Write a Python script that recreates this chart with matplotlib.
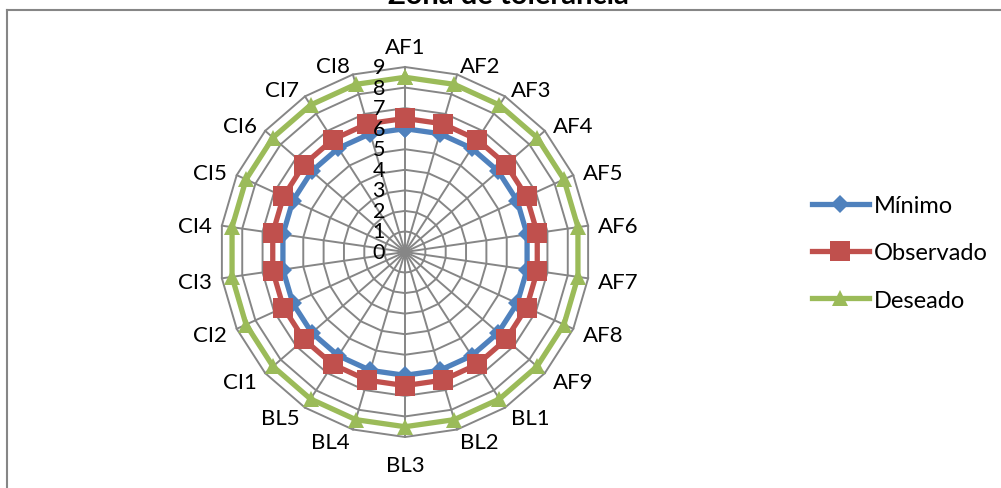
import numpy as np
import matplotlib
matplotlib.use('Agg')
import matplotlib.pyplot as plt
from matplotlib.lines import Line2D
from matplotlib.transforms import offset_copy

plt.rcParams['font.family'] = ['Lato', 'DejaVu Sans']

categories = ['AF1', 'AF2', 'AF3', 'AF4', 'AF5', 'AF6', 'AF7', 'AF8', 'AF9',
              'BL1', 'BL2', 'BL3', 'BL4', 'BL5',
              'CI1', 'CI2', 'CI3', 'CI4', 'CI5', 'CI6', 'CI7', 'CI8']
minimo = [6, 6, 6, 6, 6, 6, 6, 6, 6, 6, 6, 6, 6, 6, 6, 6, 6, 6, 6, 6, 6, 6]
observado = [6.5, 6.5, 6.5, 6.5, 6.5, 6.5, 6.5, 6.5, 6.5, 6.5, 6.5,
             6.5, 6.5, 6.5, 6.5, 6.5, 6.5, 6.5, 6.5, 6.5, 6.5, 6.5]
deseado = [8.5, 8.5, 8.5, 8.5, 8.5, 8.5, 8.5, 8.5, 8.5, 8.5, 8.5,
           8.5, 8.5, 8.5, 8.5, 8.5, 8.5, 8.5, 8.5, 8.5, 8.5, 8.5]
r_ticks = [0, 1, 2, 3, 4, 5, 6, 7, 8, 9]
series_names = ['Mínimo', 'Observado', 'Deseado']
title = 'Zona de tolerancia'

GRID = '#868686'
COLORS = ['#4F81BD', '#C0504D', '#9BBB59']
MARKERS = ['D', 's', '^']
MSIZES = [9, 14, 12]

fig = plt.figure(figsize=(10.01, 4.89), dpi=100)
R = 185
cx, cy = 405, 253
ax = fig.add_axes([(cx - R) / 1001, (489 - cy - R) / 489, 2 * R / 1001, 2 * R / 489],
                  projection='polar')
ax.set_theta_zero_location('N')
ax.set_theta_direction(-1)
ax.set_ylim(0, r_ticks[-1])
ax.grid(False)
ax.spines['polar'].set_visible(False)
ax.set_yticks([])

n = len(categories)
angles = np.linspace(0, 2 * np.pi, n, endpoint=False)
closed = np.concatenate([angles, angles[:1]])

# polygonal grid
for r in r_ticks[1:]:
    ax.plot(closed, [r] * (n + 1), color=GRID, lw=1.4, zorder=1, clip_on=False)
for a in angles:
    ax.plot([a, a], [0, r_ticks[-1]], color=GRID, lw=1.4, zorder=1, clip_on=False)

handles = []
for vals, name, c, m, ms in zip([minimo, observado, deseado], series_names,
                                COLORS, MARKERS, MSIZES):
    v = list(vals) + [vals[0]]
    h, = ax.plot(closed, v, color=c, lw=3.8, marker=m, markersize=ms,
                 markeredgewidth=0, label=name, zorder=3, clip_on=False)
    handles.append(h)

ax.set_xticks(angles)
ax.set_xticklabels(categories, fontsize=16)
ax.tick_params(axis='x', pad=0.5, length=0)
for tick, lbl, a in zip(ax.xaxis.get_major_ticks(), ax.get_xticklabels(), angles):
    s, c = np.sin(a), np.cos(a)
    lbl.set_ha('left' if s > 0.1 else ('right' if s < -0.1 else 'center'))
    if c > 0.99:
        lbl.set_va('bottom')
    elif c < -0.99:
        lbl.set_va('top')
        tick.set_pad(6)
    else:
        lbl.set_va('center_baseline')

tr = offset_copy(ax.transData, fig=fig, x=-20, y=0, units='dots')
for r in r_ticks:
    ax.text(0, r, str(r), transform=tr, ha='right', va='center', fontsize=15.5)

fig.legend(handles=handles, loc='center left',
           bbox_to_anchor=(812 / 1001, (489 - 254) / 489),
           frameon=False, fontsize=17, handlelength=2.4, handletextpad=0.2,
           labelspacing=1.11, borderpad=0, borderaxespad=0)

fig.text(508 / 1001, 1 - 4 / 489, title, ha='center', va='baseline',
         fontsize=21, fontweight='bold')

x0 = 7 / 1001
y0 = 1 - 11 / 489
fig.add_artist(Line2D([x0, 1], [y0, y0], transform=fig.transFigure,
                      color=GRID, lw=1.5))
fig.add_artist(Line2D([x0, x0], [0, y0], transform=fig.transFigure,
                      color=GRID, lw=1.5))

fig.savefig('out.png', dpi=100)
